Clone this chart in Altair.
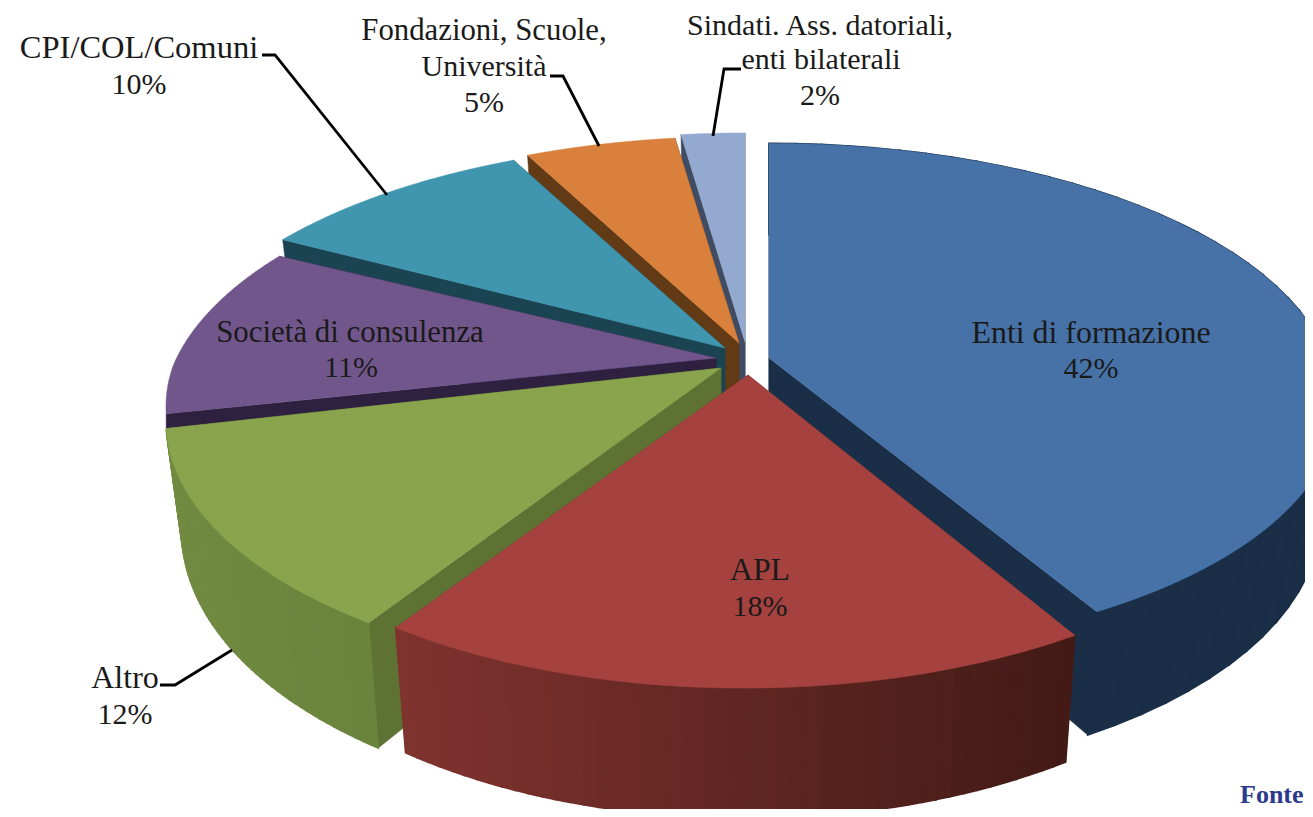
import math
import altair as alt
import pandas as pd

# ---------- chart values ----------
names = ["Enti di formazione", "APL", "Altro", "Società di consulenza",
         "CPI/COL/Comuni", "Fondazioni, Scuole, Università",
         "Sindati. Ass. datoriali, enti bilaterali"]
shares = [42, 18, 12, 11, 9.6, 5.2, 2.2]
top_colors = ["#4672A8", "#A5423F", "#89A44D", "#71568C", "#4096AE", "#D8803C", "#93A9CF"]
face_colors = ["#1A2E47", "#7B3230", "#5E7233", "#2E2140", "#1A4451", "#633A16", "#3F4C63"]

# ---------- 3D projection constants, one row per slice ----------
apex_x = [769, 748, 721, 716, 725, 739, 745]
apex_y = [358, 375, 368, 358, 348, 343, 342]
semi_x = [558, 540, 548, 543, 550, 550, 550]
semi_y = [249, 255, 255, 245, 245, 245, 248]
persp = [0.16, 0.186, 0.186, 0.186, 0.186, 0.186, 0.186]
tilt = [0, 0.02, 0.02, 0.015, 0, 0, 0]
depth = [106, 106, 106, 14, 106, 106, 106]
shrink = [0.972, 0.972, 0.972, 1, 0.972, 0.972, 0.972]
start_nudge = [0, 0, -1.4, 0, 0, 0, 0]
end_nudge = [0, -0.8, 0, 0, 0, 0, 0]
SHEAR = 0.06
wall_left = {0: "#1A2E47", 1: "#80332F", 2: "#718B41"}
wall_right = {0: "#1A2E47", 1: "#421A16", 2: "#6A833D"}
draw_order = [6, 5, 4, 3, 2, 0, 1]


def project(i, deg):
    # theta 0 is the back of the pie, growing clockwise
    t = math.radians(deg)
    u, v = math.sin(t), -math.cos(t)
    w = 1 - persp[i] * v
    dx = semi_x[i] * u / w
    dy = semi_y[i] * v / w
    dx += SHEAR * max(dy, 0)
    dy += tilt[i] * (-dx)
    return (apex_x[i] + dx, apex_y[i] + dy,
            apex_x[i] + shrink[i] * dx, apex_y[i] + dy + depth[i] / w)


def rows_of(poly, piece, color, sw):
    xs = sorted({round(p[0], 2) for p in poly})
    out = []
    n = len(poly)
    for x in xs:
        hits = []
        for k in range(n):
            x0, y0 = poly[k]
            x1, y1 = poly[(k + 1) % n]
            lo, hi = min(x0, x1), max(x0, x1)
            if lo - 0.011 <= x <= hi + 0.011:
                if abs(x1 - x0) < 1e-6:
                    hits += [y0, y1]
                else:
                    f = min(1, max(0, (x - x0) / (x1 - x0)))
                    hits.append(y0 + f * (y1 - y0))
        if hits:
            out.append({"x": x, "y": min(hits), "y2": max(hits), "piece": piece, "c": color, "sw": sw})
    return out


def mix(a, b, f):
    ca = [int(a[j:j + 2], 16) for j in (1, 3, 5)]
    cb = [int(b[j:j + 2], 16) for j in (1, 3, 5)]
    return "#" + "".join(f"{round(p + (q - p) * f):02x}" for p, q in zip(ca, cb))


starts = []
acc = 0
for s in shares:
    starts.append(acc * 3.6)
    acc += s

rows = []
for i in draw_order:
    a0 = starts[i] + start_nudge[i]
    a1 = starts[i] + shares[i] * 3.6 + end_nudge[i]
    ax, ay = apex_x[i], apex_y[i]
    for tag, a in (("s", a0), ("e", a1)):
        x, y, xb, yb = project(i, a)
        poly = [(ax, ay), (x, y), (xb, yb), (ax, ay + depth[i])]
        rows += rows_of(poly, f"{i}{tag}", face_colors[i], 0.5)
    if i in wall_left:
        n = 48
        pts = [project(i, a0 + (a1 - a0) * k / n) for k in range(n + 1)]
        xmin = min(p[0] for p in pts)
        xmax = max(p[0] for p in pts)
        for k in range(n):
            p, q = pts[k], pts[k + 1]
            f = ((p[0] + q[0]) / 2 - xmin) / (xmax - xmin)
            poly = [(p[0], p[1]), (q[0], q[1]), (q[2], q[3]), (p[2], p[3])]
            rows += rows_of(poly, f"{i}w{k}", mix(wall_left[i], wall_right[i], f), 1.6)
    n = 140
    arc = [project(i, a0 + (a1 - a0) * k / n)[:2] for k in range(n + 1)]
    rows += rows_of([(ax, ay)] + arc, f"{i}t", top_colors[i], 0.5)

pie = pd.DataFrame(rows)

label_text = ["Enti di formazione", f"{round(shares[0])}%", "APL", f"{round(shares[1])}%",
              "Altro", f"{round(shares[2])}%", "Società di consulenza", f"{round(shares[3])}%",
              "CPI/COL/Comuni", f"{round(shares[4])}%",
              "Fondazioni, Scuole,", "Università", f"{round(shares[5])}%",
              "Sindati. Ass. datoriali,", "enti bilaterali", f"{round(shares[6])}%"]
label_x = [1091, 1091, 760, 760, 125, 125, 350, 351, 139, 139, 484, 484, 484, 820, 821, 820]
label_y = [343, 378, 580, 616, 688, 724, 342, 377, 58, 94, 40, 76, 112, 35, 69, 105]
label_size = [31.9, 30, 31.8, 30, 32, 30, 30.9, 30, 32.5, 30, 30.8, 30, 30, 30, 30, 30]
labels = pd.DataFrame({"t": label_text, "x": label_x, "y": label_y, "s": label_size})

leader_id = [0, 0, 0, 1, 1, 1, 2, 2, 2, 3, 3, 3]
leader_x = [262, 275, 387, 550, 563, 599, 741, 724, 713, 160, 175, 232]
leader_y = [55, 55, 195, 76, 76, 146, 69, 69, 136, 685, 685, 650]
leader_o = [0, 1, 2] * 4
leaders = pd.DataFrame({"id": leader_id, "x": leader_x, "y": leader_y, "o": leader_o})

xs = alt.Scale(domain=[8, 1305])
ys = alt.Scale(domain=[809, 8])
X = alt.X("x:Q", scale=xs, axis=None)
Y = alt.Y("y:Q", scale=ys, axis=None)

area = alt.Chart(pie).mark_area(orient="vertical", clip=True, interpolate="linear").encode(
    x=X, y=Y, y2=alt.Y2("y2:Q"),
    color=alt.Color("c:N", scale=None),
    stroke=alt.Stroke("c:N", scale=None),
    strokeWidth=alt.StrokeWidth("sw:Q", scale=None),
    detail="piece:N",
)
lines = alt.Chart(leaders).mark_line(color="#000000", strokeWidth=2.8).encode(
    x=X, y=Y, detail="id:N", order="o:Q")
texts = alt.Chart(labels).mark_text(font="Liberation Serif", color="#1A1A1A",
                                    align="center", baseline="alphabetic").encode(
    x=X, y=Y, text="t:N", size=alt.Size("s:Q", scale=None))
fonte = alt.Chart(pd.DataFrame({"t": ["Fonte"], "x": [1240], "y": [803]})).mark_text(
    font="Liberation Serif", fontSize=26, fontWeight="bold", color="#2B3A8C",
    align="left", baseline="alphabetic").encode(x=X, y=Y, text="t:N")

chart = (area + lines + texts + fonte).properties(
    width=1297, height=801, padding=0, background="#FFFFFF",
    autosize=alt.AutoSizeParams(type="none"),
).configure_view(stroke=None)

chart.save("out.html", embed_options={"renderer": "svg", "actions": False})
